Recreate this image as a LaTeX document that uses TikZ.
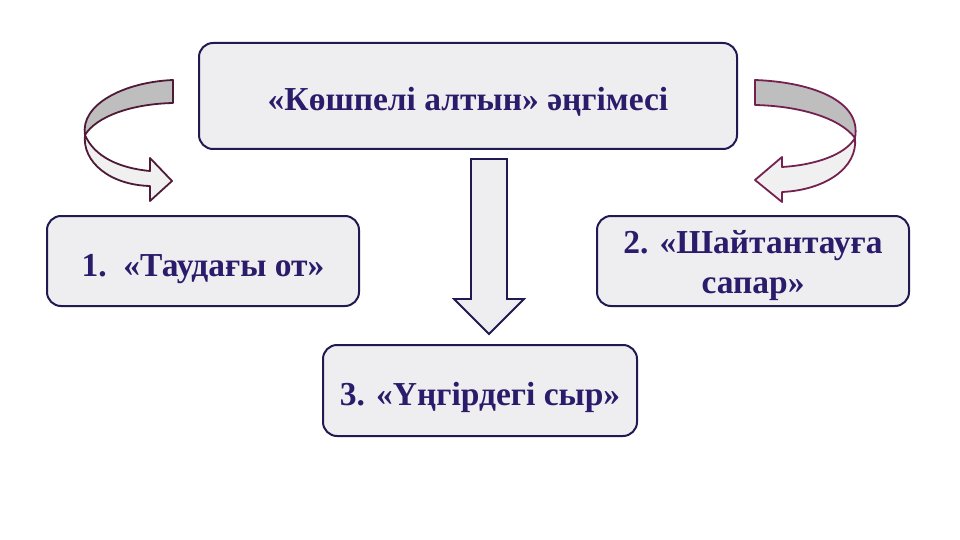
\documentclass[tikz,border=0pt]{standalone}
\usepackage{fontspec}
\setmainfont{Liberation Serif}
\definecolor{navy}{HTML}{1F1A52}
\definecolor{ink}{HTML}{2B1B6B}
\definecolor{boxfill}{HTML}{EEEEF0}
\definecolor{leftline}{HTML}{4E1A36}
\definecolor{rightline}{HTML}{742050}
\definecolor{darkband}{HTML}{BEBEBE}
\definecolor{lightband}{HTML}{F0F0F0}
\tikzset{
  tale/.style={draw=navy, line width=2pt, fill=boxfill, rounded corners=14pt,
    text=ink, font=\fontsize{33.5}{40}\selectfont\bfseries, inner sep=0pt,
    text height=30pt, text depth=0pt},
  twist/.style={line width=1.8pt, line join=round}
}
\begin{document}
\begin{tikzpicture}[x=1pt,y=-1pt]
\useasboundingbox (0,0) rectangle (960,540);
\node[tale, minimum width=538pt, minimum height=106pt] (story) at (468,96) {«Көшпелі алтын» әңгімесі};
\node[tale, minimum width=312pt, minimum height=90pt] (t1) at (203,261) {1.\ \ «Таудағы от»};
\node[tale, minimum width=312pt, minimum height=90pt, text height=22pt] (t2) at (753,261) {\begin{tabular}{@{}c@{}}2. «Шайтантауға\\сапар»\end{tabular}};
\node[tale, minimum width=314pt, minimum height=91pt] (t3) at (480,390.5) {3. «Үңгірдегі сыр»};
% down arrow
\draw[draw=navy, line width=1.8pt, fill=boxfill, line join=miter]
  (471,159) -- (507,159) -- (507,299) -- (524,299) -- (489,334) -- (454,299) -- (471,299) -- cycle;
% left curved arrow
\draw[twist, draw=leftline, fill=darkband]
  (173,80) .. controls (125,82) and (80,104) .. (85,135)
  .. controls (96,117) and (130,104) .. (173,103) -- cycle;
\draw[twist, draw=leftline, fill=lightband]
  (85,135) .. controls (82,162) and (110,185) .. (150,186) -- (150,201) -- (172,181)
  -- (150,158) -- (150,171) .. controls (118,168) and (94,156) .. (85,135) -- cycle;
% right curved arrow
\draw[twist, draw=rightline, fill=darkband]
  (755,80) .. controls (810,82) and (862,100) .. (855,138)
  .. controls (840,118) and (800,106) .. (755,105) -- cycle;
\draw[twist, draw=rightline, fill=lightband]
  (855,138) .. controls (858,168) and (825,190) .. (782,192) -- (782,202) -- (755,180)
  -- (782,157) -- (782,167) .. controls (815,165) and (845,155) .. (855,138) -- cycle;
\end{tikzpicture}
\end{document}
